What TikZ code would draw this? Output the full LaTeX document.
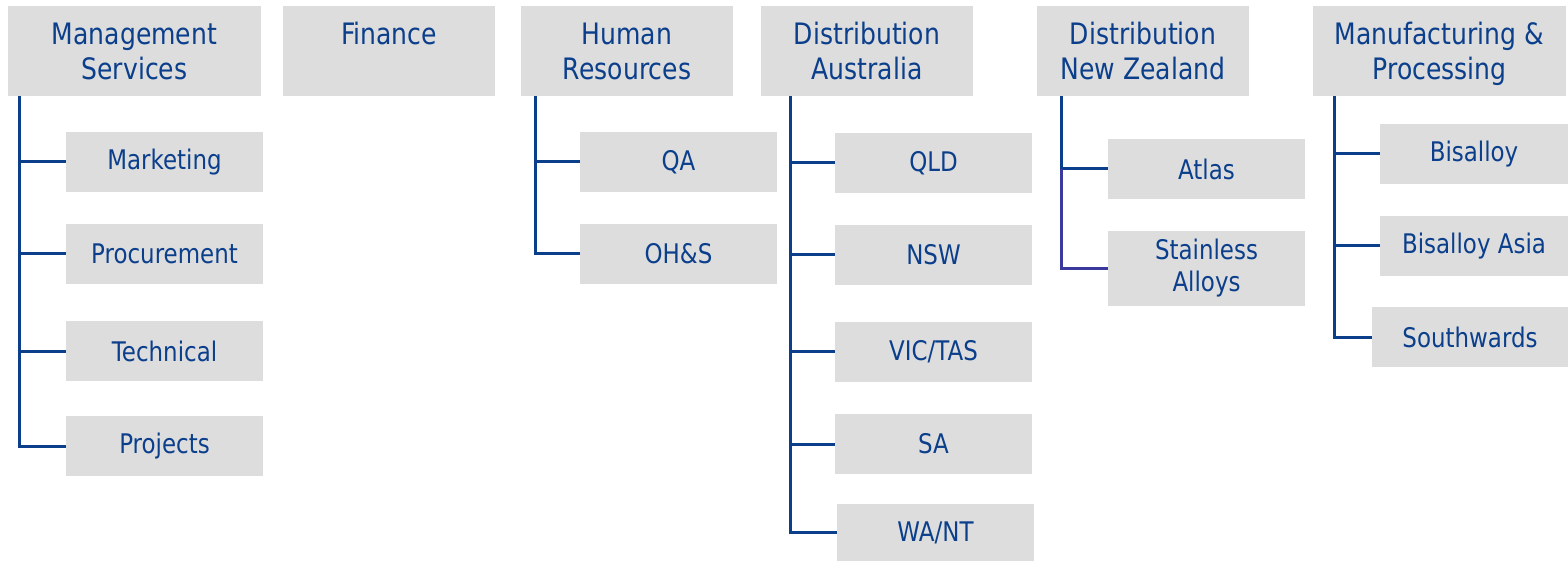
\documentclass[tikz,border=0pt]{standalone}
\usepackage{fontspec}
\setmainfont[FakeStretch=0.85]{DejaVu Sans}
\usetikzlibrary{calc}
\definecolor{txtblue}{HTML}{0B3F8C}
\definecolor{lineblue}{HTML}{0B3F8C}
\definecolor{linepurple}{HTML}{3A3A9C}
\definecolor{boxgray}{HTML}{DDDDDD}
\tikzset{
  box/.style={fill=boxgray, draw=none, text=txtblue, align=center, inner sep=0pt},
  head/.style={box, minimum height=90pt, font=\fontsize{29.5}{35}\selectfont},
  child/.style={box, minimum width=197pt, minimum height=60pt, font=\fontsize{27}{32}\selectfont},
  conn/.style={draw=lineblue, line width=3pt},
  connp/.style={draw=linepurple, line width=3pt},
}
\begin{document}
\begin{tikzpicture}[x=1pt,y=-1pt]
\useasboundingbox (0,0) rectangle (1568,561);
% headers
\node[head, minimum width=253pt] (ms) at (134.5,51) {Management\\Services};
\node[head, minimum width=212pt] (fin) at (389,51) {Finance\\\mbox{}};
\node[head, minimum width=212pt] (hr) at (627,51) {Human\\Resources};
\node[head, minimum width=212pt] (da) at (867,51) {Distribution\\Australia};
\node[head, minimum width=212pt] (dnz) at (1143,51) {Distribution\\New Zealand};
\node[head, minimum width=253pt] (mp) at (1439.5,51) {Manufacturing \&\\\raisebox{0pt}[\height][0pt]{Processing}};
% management services children
\node[child] (mk) at (164.5,162) {Marketing};
\node[child] (pr) at (164.5,254) {Procurement};
\node[child] (te) at (164.5,351) {Technical};
\node[child] (pj) at (164.5,446) {Projects};
% HR children
\node[child] (qa) at (678.5,162) {QA};
\node[child] (oh) at (678.5,254) {OH\&S};
% Distribution Australia children
\node[child] (qld) at (933.5,163) {QLD};
\node[child] (nsw) at (933.5,255) {NSW};
\node[child] (vic) at (933.5,351.5) {VIC/TAS};
\node[child] (sa) at (933.5,444) {SA};
\node[child, minimum height=57pt] (wa) at (935.5,532.5) {WA/NT};
% Distribution NZ children
\node[child] (at) at (1206.5,169) {Atlas};
\node[child, minimum height=75pt] (sta) at (1206.5,268.5) {Stainless\\Alloys};
% Manufacturing children
\node[child, minimum width=188pt] (bi) at (1474,154) {Bisalloy};
\node[child, minimum width=188pt] (ba) at (1474,246) {Bisalloy Asia};
\node[child, minimum width=196pt] (so) at (1470,337) {Southwards};
% trunk points
\coordinate (t1) at ($(ms.south west)+(12,0)$);
\coordinate (t3) at ($(hr.south west)+(15,0)$);
\coordinate (t4) at ($(da.south west)+(30,0)$);
\coordinate (t5) at ($(dnz.south west)+(25,0)$);
\coordinate (t6) at ($(mp.south west)+(22,0)$);
% connectors
\foreach \c in {mk,pr,te,pj} \draw[conn] (t1) |- (\c.west);
\foreach \c in {qa,oh} \draw[conn] (t3) |- (\c.west);
\foreach \c in {qld,nsw,vic,sa,wa} \draw[conn] (t4) |- (\c.west);
\draw[conn] (t5) |- (at.west);
\draw[connp] (at.west -| t5) |- (sta.west);
\foreach \c in {bi,ba,so} \draw[conn] (t6) |- (\c.west);
\end{tikzpicture}
\end{document}
